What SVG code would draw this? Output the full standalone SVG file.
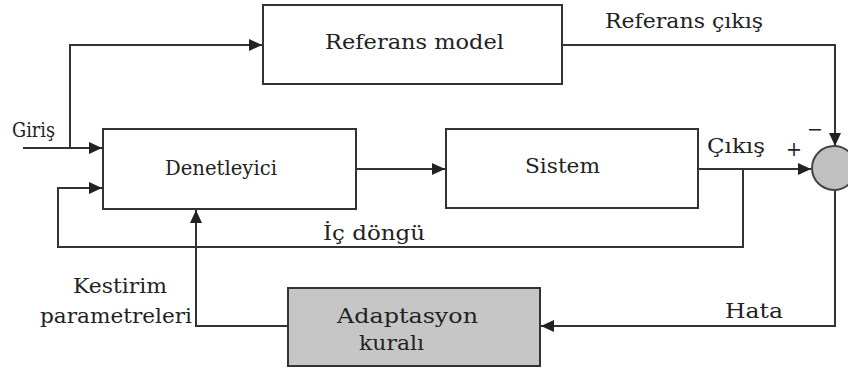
<svg xmlns="http://www.w3.org/2000/svg" width="848" height="373" viewBox="0 0 848 373">
  <style>
    .box { fill: #ffffff; stroke: #333333; stroke-width: 2; }
    .gray { fill: #c6c6c6; stroke: #333333; stroke-width: 2; }
    .wire { fill: none; stroke: #333333; stroke-width: 2; }
    .t { font-family: 'DejaVu Serif', serif; font-size: 20px; fill: #222222; }
  </style>
  <defs>
    <marker id="arr" markerUnits="userSpaceOnUse" markerWidth="14" markerHeight="12" refX="13" refY="6" orient="auto">
      <path d="M0,0 L13,6 L0,12 z" fill="#222222"/>
    </marker>
  </defs>
  <rect width="848" height="373" fill="#ffffff"/>

  <g id="connectors">
    <path class="wire" d="M23,148 H102" marker-end="url(#arr)"/>
    <path class="wire" d="M70,148 V45 H262" marker-end="url(#arr)"/>
    <path class="wire" d="M356,169 H445" marker-end="url(#arr)"/>
    <path class="wire" d="M698,169 H811" marker-end="url(#arr)"/>
    <path class="wire" d="M743,169 V247 H58 V188 H102" marker-end="url(#arr)"/>
    <path class="wire" d="M562,45 H835 V146" marker-end="url(#arr)"/>
    <path class="wire" d="M835,190 V326 H541" marker-end="url(#arr)"/>
    <path class="wire" d="M288,326 H196 V210" marker-end="url(#arr)"/>
  </g>

  <g id="referans-model">
    <rect class="box" x="263" y="5" width="299" height="79"/>
    <text class="t" x="325" y="49" textLength="179" lengthAdjust="spacingAndGlyphs">Referans model</text>
  </g>
  <g id="denetleyici">
    <rect class="box" x="103" y="129" width="253" height="80"/>
    <text class="t" x="165" y="175" textLength="112" lengthAdjust="spacingAndGlyphs">Denetleyici</text>
  </g>
  <g id="sistem">
    <rect class="box" x="446" y="129" width="252" height="79"/>
    <text class="t" x="525" y="173" textLength="75" lengthAdjust="spacingAndGlyphs">Sistem</text>
  </g>
  <g id="toplayici">
    <circle cx="834" cy="168" r="22" fill="#c0c0c0" stroke="#444444" stroke-width="2"/>
  </g>
  <g id="adaptasyon">
    <rect class="gray" x="288" y="288" width="252" height="78"/>
    <text class="t" x="337" y="323" textLength="141" lengthAdjust="spacingAndGlyphs">Adaptasyon</text>
    <text class="t" x="359" y="350" textLength="65" lengthAdjust="spacingAndGlyphs">kuralı</text>
  </g>

  <g id="labels">
    <text class="t" x="605" y="28" textLength="158" lengthAdjust="spacingAndGlyphs">Referans çıkış</text>
    <text class="t" x="12" y="137" textLength="43" lengthAdjust="spacingAndGlyphs">Giriş</text>
    <text class="t" x="707" y="153" textLength="58" lengthAdjust="spacingAndGlyphs">Çıkış</text>
    <text class="t" x="786" y="156" textLength="16" lengthAdjust="spacingAndGlyphs">+</text>
    <text class="t" x="807" y="136" textLength="16" lengthAdjust="spacingAndGlyphs">−</text>
    <text class="t" x="323" y="240" textLength="102" lengthAdjust="spacingAndGlyphs">İç döngü</text>
    <text class="t" x="73" y="293" textLength="94" lengthAdjust="spacingAndGlyphs">Kestirim</text>
    <text class="t" x="40" y="323" textLength="152" lengthAdjust="spacingAndGlyphs">parametreleri</text>
    <text class="t" x="725" y="318" textLength="58" lengthAdjust="spacingAndGlyphs">Hata</text>
  </g>
</svg>
